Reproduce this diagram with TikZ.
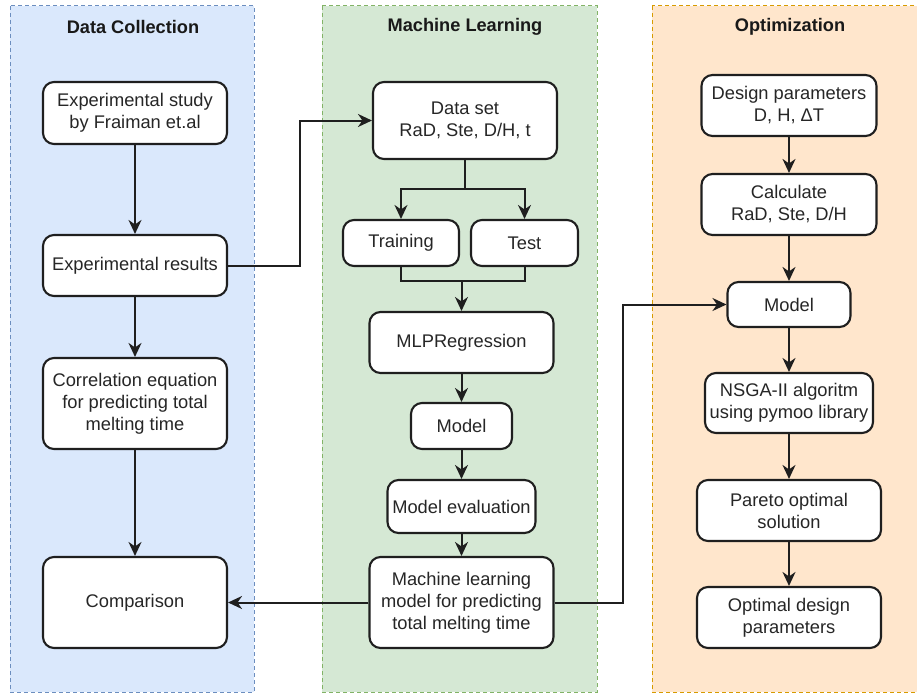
\documentclass[tikz,border=0pt]{standalone}
\usepackage{fontspec}
\setmainfont{Liberation Sans}
\usetikzlibrary{arrows.meta}
\definecolor{bfill}{HTML}{DAE8FC}\definecolor{bdraw}{HTML}{6C8EBF}
\definecolor{gfill}{HTML}{D5E8D4}\definecolor{gdraw}{HTML}{82B366}
\definecolor{ofill}{HTML}{FFE6CC}\definecolor{odraw}{HTML}{D79B00}
\begin{document}
\begin{tikzpicture}[x=1pt,y=-1pt,
 box/.style={draw=black!88, line width=2.1pt, fill=white, rounded corners=11pt, align=center, inner sep=0pt, text=black!85, font=\fontsize{18.3}{22}\selectfont},
 panel/.style={line width=1pt, dash pattern=on 4pt off 3pt},
 title/.style={font=\bfseries\fontsize{18.2}{21}\selectfont, text=black!90},
 arr/.style={line width=2pt, draw=black!88, -{Stealth[length=14pt,width=13pt,inset=4.5pt]}},
 ln/.style={line width=2pt, draw=black!88}]
\useasboundingbox (0,0) rectangle (917,693);
\clip (0,0) rectangle (917,693);
% panels
\draw[panel, fill=bfill, draw=bdraw] (10,6) rectangle (254,692);
\draw[panel, fill=gfill, draw=gdraw] (322,6) rectangle (597,692);
\draw[panel, fill=ofill, draw=odraw] (652,6) rectangle (930,692);
\node[title] (t1) at (133,27) {Data Collection};
\node[title] (t2) at (465,27) {Machine Learning};
\node[title] (t3) at (790,27) {Optimization};
% data collection
\node[box, minimum width=184pt, minimum height=62pt] (es) at (135,113) {Experimental study\\by Fraiman et.al};
\node[box, minimum width=184pt, minimum height=61pt] (er) at (135,265.5) {Experimental results};
\node[box, minimum width=184pt, minimum height=91pt] (ce) at (135,403.5) {Correlation equation\\for predicting total\\melting time};
\node[box, minimum width=184pt, minimum height=91pt] (cmp) at (135,602.5) {Comparison};
% machine learning
\node[box, minimum width=184pt, minimum height=77pt] (ds) at (465,120.5) {Data set\\RaD, Ste, D/H, t};
\node[box, minimum width=116pt, minimum height=46pt] (tr) at (401,243) {Training};
\node[box, minimum width=107pt, minimum height=46pt] (te) at (524.5,243) {Test};
\node[box, minimum width=184pt, minimum height=61pt] (mlp) at (461.5,342.5) {MLPRegression};
\node[box, minimum width=101pt, minimum height=46pt] (mod) at (461.5,426) {Model};
\node[box, minimum width=148pt, minimum height=53pt] (ev) at (461.5,506.5) {Model evaluation};
\node[box, minimum width=184pt, minimum height=91pt] (ml) at (461.5,602.5) {Machine learning\\model for predicting\\total melting time};
% optimization
\node[box, minimum width=175pt, minimum height=61pt] (dp) at (789,105.5) {Design parameters\\D, H, ΔT};
\node[box, minimum width=175pt, minimum height=61pt] (calc) at (789,204.5) {Calculate\\RaD, Ste, D/H};
\node[box, minimum width=123pt, minimum height=45pt] (om) at (789,304.5) {Model};
\node[box, minimum width=168pt, minimum height=60pt] (ns) at (789,403) {NSGA-II algoritm\\using pymoo library};
\node[box, minimum width=184pt, minimum height=61pt] (par) at (789,510.5) {Pareto optimal\\solution};
\node[box, minimum width=184pt, minimum height=61pt] (opt) at (789,617.5) {Optimal design\\parameters};
% helper coordinates
\coordinate (c1) at (300,0);
\coordinate (c2) at (623,0);
\coordinate (split) at (465,189);
\coordinate (merge) at (461.5,281);
% connectors
\draw[arr] (es) -- (er);
\draw[arr] (er) -- (ce);
\draw[arr] (ce) -- (cmp);
\draw[arr] (er.east) -- (er.east -| c1) |- (ds.west);
\draw[ln] (ds.south) -- (split);
\draw[arr] (split) -| (tr.north);
\draw[arr] (split) -| (te.north);
\draw[ln] (tr.south) |- (merge);
\draw[ln] (te.south) |- (merge);
\draw[arr] (merge) -- (mlp.north);
\draw[arr] (mlp) -- (mod);
\draw[arr] (mod) -- (ev);
\draw[arr] (ev) -- (ml);
\draw[arr] (ml.west) -- (cmp.east);
\draw[arr] (ml.east) -- (ml.east -| c2) |- (om.west);
\draw[arr] (dp) -- (calc);
\draw[arr] (calc) -- (om);
\draw[arr] (om) -- (ns);
\draw[arr] (ns) -- (par);
\draw[arr] (par) -- (opt);
\end{tikzpicture}
\end{document}
